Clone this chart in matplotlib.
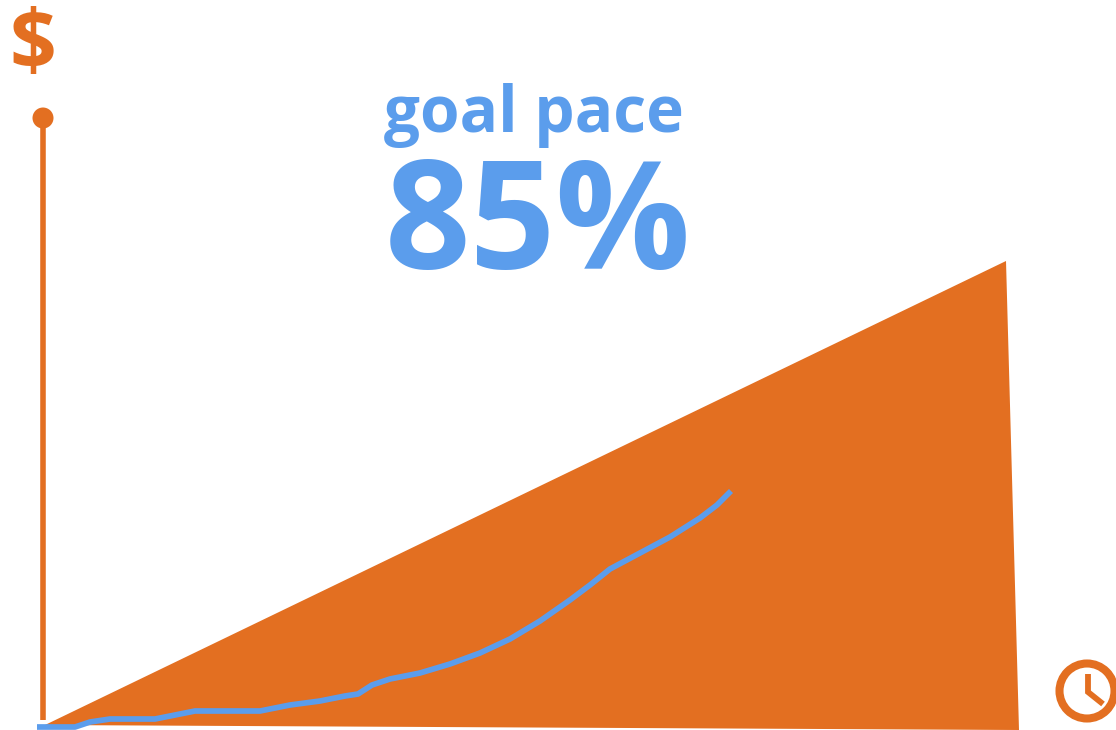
import matplotlib
matplotlib.use("Agg")
import matplotlib.pyplot as plt
from matplotlib.patches import Circle

ORANGE = "#E36F21"
BLUE = "#5B9DEC"

# goal area corners (time, dollars)
goal_time = [2, 963, 976, 2]
goal_amount = [2, 466, -3, 2]

# actual pace line
pace_time = [-6, 17, 32, 47, 67, 87, 112, 132, 152, 177, 217, 247, 277, 302, 315,
             329, 347, 377, 407, 437, 467, 497, 527, 547, 567, 597, 627, 657, 674, 688]
pace_amount = [0, 0, 0, 5, 8, 8, 8, 12, 16, 16, 16, 22, 26, 31, 33,
               42, 48, 54, 63, 74, 88, 106, 127, 142, 158, 174, 190, 209, 222, 236]

# y axis stem
axis_top = 608
axis_bottom = 7

fig = plt.figure(figsize=(11.16, 7.30), dpi=100)
ax = fig.add_axes([0, 0, 1, 1])
ax.set_xlim(-43, 1073)
ax.set_ylim(-3, 727)
ax.axis("off")

ax.fill(goal_time, goal_amount, color=ORANGE, lw=0, zorder=1)
ax.plot(pace_time, pace_amount, color=BLUE, lw=4.1, solid_joinstyle="round",
        solid_capstyle="butt", zorder=3)

ax.plot([0, 0], [axis_bottom, axis_top], color=ORANGE, lw=4, solid_capstyle="butt", zorder=2)
ax.add_patch(Circle((0, axis_top + 1), 10.5, color=ORANGE, lw=0, zorder=2))

ax.text(-10, 680, "$", color=ORANGE, fontsize=59, fontweight="bold",
        family="Open Sans", ha="center", va="center")
ax.text(491, 611, "goal pace", color=BLUE, fontsize=46, fontweight="bold",
        family="Open Sans", ha="center", va="center")
ax.text(495, 497, "85%", color=BLUE, fontsize=108, fontweight="bold",
        family="Open Sans", ha="center", va="center")

# clock icon
ax.add_patch(Circle((1044, 36), 27.5, facecolor="none", edgecolor=ORANGE, lw=5.8, zorder=2))
ax.plot([1045, 1045, 1060], [53, 35, 23], color=ORANGE, lw=4.2, solid_joinstyle="miter",
        solid_capstyle="butt", zorder=2)

plt.savefig("out.png", dpi=100)
